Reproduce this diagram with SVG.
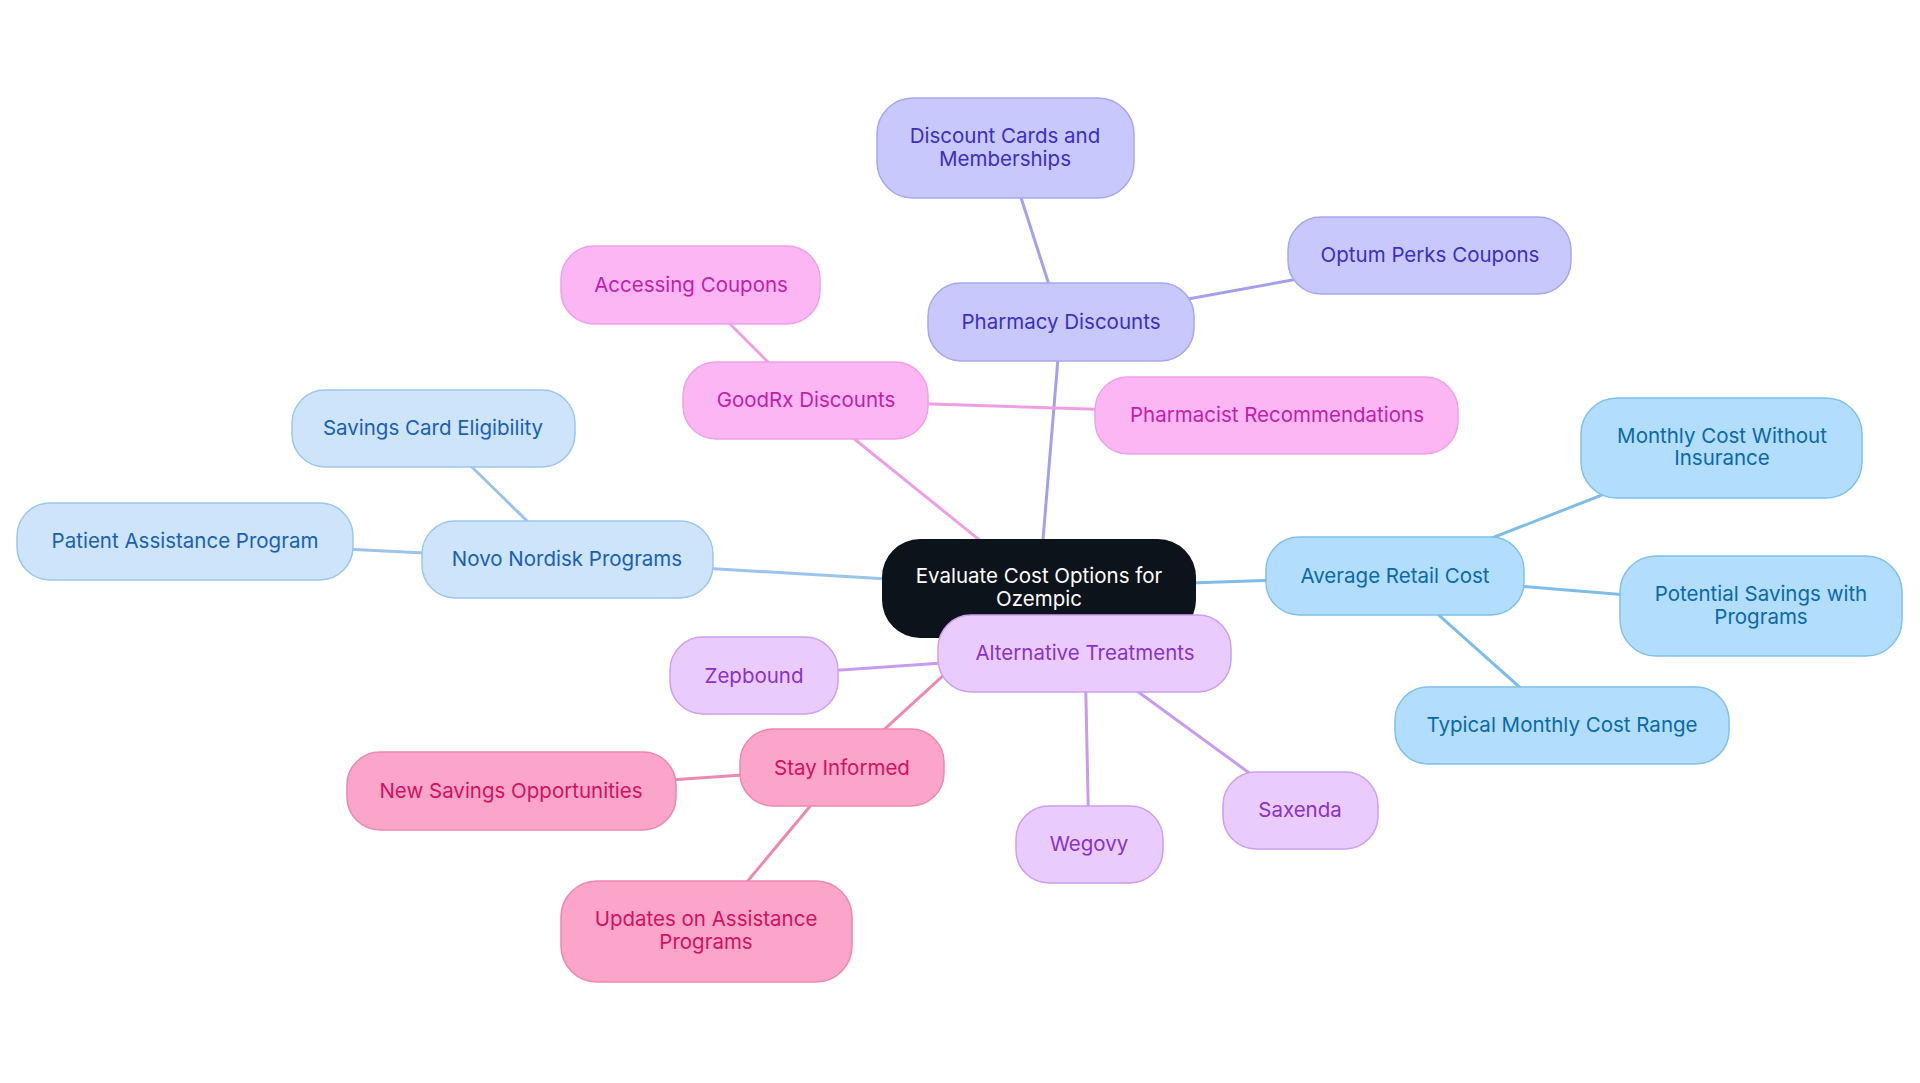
<svg xmlns="http://www.w3.org/2000/svg" width="1920" height="1083" viewBox="0 0 1920 1083">
<style>
  text { font-family: Inter, "Noto Sans", "Liberation Sans", sans-serif; font-size: 20.5px; text-anchor: middle; }
  .edge { stroke-width: 3; fill: none; stroke-linecap: round; }
  .e-ph { stroke: #a4a0ee; }
  .e-gr { stroke: #f09ee3; }
  .e-nn { stroke: #9cc3ea; }
  .e-av { stroke: #7dbde8; }
  .e-al { stroke: #c79cee; }
  .e-st { stroke: #ec88b1; }
  .box { stroke-width: 1.5; }
  .n-root { fill: #0d131a; }
  .n-ph rect { fill: #c8c8fd; stroke: #a8a6f0; } .n-ph text { fill: #3a2fc2; }
  .n-gr rect { fill: #fdb6f4; stroke: #f0a0e6; } .n-gr text { fill: #c21eaa; }
  .n-nn rect { fill: #cde4fb; stroke: #9dc6ee; } .n-nn text { fill: #1a60b0; }
  .n-av rect { fill: #b3ddfc; stroke: #80c0ec; } .n-av text { fill: #0a69a8; }
  .n-al rect { fill: #e9ccfd; stroke: #cc9ff0; } .n-al text { fill: #8a32c8; }
  .n-st rect { fill: #fca5cb; stroke: #ee86b0; } .n-st text { fill: #d4105f; }
</style>
<rect width="1920" height="1083" fill="#ffffff"/>
<g id="connectors">
  <line class="edge e-ph" x1="1039" y1="588" x2="1061" y2="322"/>
  <line class="edge e-ph" x1="1061" y1="322" x2="1005" y2="148"/>
  <line class="edge e-ph" x1="1061" y1="322" x2="1430" y2="255"/>
  <line class="edge e-gr" x1="1039" y1="588" x2="806" y2="400"/>
  <line class="edge e-gr" x1="806" y1="400" x2="691" y2="285"/>
  <line class="edge e-gr" x1="806" y1="400" x2="1277" y2="415"/>
  <line class="edge e-nn" x1="1039" y1="588" x2="567" y2="560"/>
  <line class="edge e-nn" x1="567" y1="560" x2="433" y2="429"/>
  <line class="edge e-nn" x1="567" y1="560" x2="185" y2="541"/>
  <line class="edge e-av" x1="1039" y1="588" x2="1395" y2="576"/>
  <line class="edge e-av" x1="1395" y1="576" x2="1722" y2="448"/>
  <line class="edge e-av" x1="1395" y1="576" x2="1761" y2="606"/>
  <line class="edge e-av" x1="1395" y1="576" x2="1562" y2="725"/>
  <line class="edge e-al" x1="1039" y1="588" x2="1085" y2="653"/>
  <line class="edge e-al" x1="1085" y1="653" x2="754" y2="676"/>
  <line class="edge e-al" x1="1085" y1="653" x2="1089" y2="844"/>
  <line class="edge e-al" x1="1085" y1="653" x2="1300" y2="810"/>
  <line class="edge e-st" x1="1039" y1="588" x2="842" y2="768"/>
  <line class="edge e-st" x1="842" y1="768" x2="511" y2="791"/>
  <line class="edge e-st" x1="842" y1="768" x2="706" y2="931"/>
</g>
<g id="node-pharmacy-discounts" class="n-ph">
  <rect class="box" x="928" y="283" width="266" height="78" rx="33"/>
  <text x="1061" y="329">Pharmacy Discounts</text>
</g>
<g id="node-discount-cards" class="n-ph">
  <rect class="box" x="877" y="98" width="257" height="100" rx="36"/>
  <text x="1005" y="143">Discount Cards and</text>
  <text x="1005" y="166">Memberships</text>
</g>
<g id="node-optum" class="n-ph">
  <rect class="box" x="1288" y="217" width="283" height="77" rx="33"/>
  <text x="1430" y="262">Optum Perks Coupons</text>
</g>
<g id="node-goodrx" class="n-gr">
  <rect class="box" x="683" y="362" width="245" height="77" rx="33"/>
  <text x="806" y="407">GoodRx Discounts</text>
</g>
<g id="node-accessing-coupons" class="n-gr">
  <rect class="box" x="561" y="246" width="259" height="78" rx="33"/>
  <text x="691" y="292">Accessing Coupons</text>
</g>
<g id="node-pharmacist" class="n-gr">
  <rect class="box" x="1095" y="377" width="363" height="77" rx="33"/>
  <text x="1277" y="422">Pharmacist Recommendations</text>
</g>
<g id="node-novo" class="n-nn">
  <rect class="box" x="422" y="521" width="291" height="77" rx="33"/>
  <text x="567" y="566">Novo Nordisk Programs</text>
</g>
<g id="node-savings-card" class="n-nn">
  <rect class="box" x="292" y="390" width="283" height="77" rx="33"/>
  <text x="433" y="435">Savings Card Eligibility</text>
</g>
<g id="node-patient-assistance" class="n-nn">
  <rect class="box" x="17" y="503" width="336" height="77" rx="33"/>
  <text x="185" y="548">Patient Assistance Program</text>
</g>
<g id="node-average" class="n-av">
  <rect class="box" x="1266" y="537" width="258" height="78" rx="33"/>
  <text x="1395" y="583">Average Retail Cost</text>
</g>
<g id="node-monthly" class="n-av">
  <rect class="box" x="1581" y="398" width="281" height="100" rx="36"/>
  <text x="1722" y="443">Monthly Cost Without</text>
  <text x="1722" y="465">Insurance</text>
</g>
<g id="node-potential" class="n-av">
  <rect class="box" x="1620" y="556" width="282" height="100" rx="36"/>
  <text x="1761" y="601">Potential Savings with</text>
  <text x="1761" y="624">Programs</text>
</g>
<g id="node-typical" class="n-av">
  <rect class="box" x="1395" y="687" width="334" height="77" rx="33"/>
  <text x="1562" y="732">Typical Monthly Cost Range</text>
</g>
<g id="node-stay" class="n-st">
  <rect class="box" x="740" y="729" width="204" height="77" rx="33"/>
  <text x="842" y="775">Stay Informed</text>
</g>
<g id="node-new-savings" class="n-st">
  <rect class="box" x="347" y="752" width="329" height="78" rx="33"/>
  <text x="511" y="798">New Savings Opportunities</text>
</g>
<g id="node-updates" class="n-st">
  <rect class="box" x="561" y="881" width="291" height="101" rx="36"/>
  <text x="706" y="926">Updates on Assistance</text>
  <text x="706" y="949">Programs</text>
</g>
<g id="node-root">
  <rect class="n-root" x="882" y="539" width="314" height="99" rx="38"/>
  <text x="1039" y="583" fill="#ffffff">Evaluate Cost Options for</text>
  <text x="1039" y="606" fill="#ffffff">Ozempic</text>
</g>
<g id="node-alternative" class="n-al">
  <rect class="box" x="938" y="615" width="293" height="77" rx="33"/>
  <text x="1085" y="660">Alternative Treatments</text>
</g>
<g id="node-zepbound" class="n-al">
  <rect class="box" x="670" y="637" width="168" height="77" rx="33"/>
  <text x="754" y="683">Zepbound</text>
</g>
<g id="node-wegovy" class="n-al">
  <rect class="box" x="1016" y="806" width="147" height="77" rx="33"/>
  <text x="1089" y="851">Wegovy</text>
</g>
<g id="node-saxenda" class="n-al">
  <rect class="box" x="1223" y="772" width="155" height="77" rx="33"/>
  <text x="1300" y="817">Saxenda</text>
</g>
</svg>
